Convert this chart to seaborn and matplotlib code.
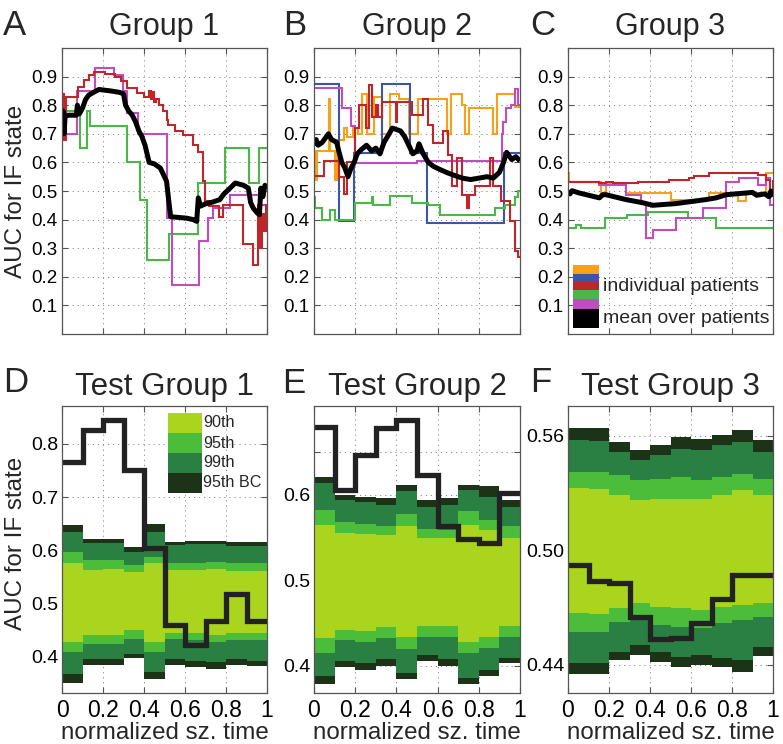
import numpy as np
import matplotlib
matplotlib.use("Agg")
import matplotlib.pyplot as plt
import seaborn as sns
from matplotlib.patches import Rectangle

sns.set_theme(style="white")
plt.rcParams["font.family"] = ["Liberation Sans", "DejaVu Sans"]

# colours
ORANGE = "#F7A11A"
BLUE = "#3D55A6"
RED = "#BF262C"
GREEN = "#4BB748"
MAGENTA = "#BF4DBE"
BAND_90 = "#AAD41E"
BAND_95 = "#4CBD3A"
BAND_99 = "#2A8042"
BAND_BC = "#1C3318"

# ---------------- top row: AUC traces per patient (step functions) ----------------
# Group 1
A_green_t = [0.0, 0.089, 0.121, 0.138, 0.318, 0.379, 0.413, 0.52, 0.665, 0.795, 0.912, 0.961, 1.0]
A_green_y = [0.778, 0.65, 0.778, 0.729, 0.60, 0.47, 0.26, 0.348, 0.528, 0.652, 0.528, 0.652, 0.652]
A_magenta_t = [0.0, 0.072, 0.162, 0.252, 0.298, 0.318, 0.37, 0.51, 0.539, 0.67, 0.714, 0.738, 0.82, 0.966, 1.0]
A_magenta_y = [0.70, 0.85, 0.93, 0.906, 0.848, 0.772, 0.70, 0.406, 0.173, 0.324, 0.405, 0.44, 0.487, 0.45, 0.45]
A_red_t = [0.0, 0.006, 0.012, 0.02, 0.08, 0.105, 0.13, 0.154, 0.21, 0.26, 0.29, 0.318, 0.367, 0.40,
           0.425, 0.432, 0.44, 0.45, 0.46, 0.475, 0.494, 0.51, 0.519, 0.551, 0.592, 0.641, 0.665,
           0.689, 0.698, 0.719, 0.767, 0.784, 0.885, 0.933, 0.958, 0.966, 0.975, 0.985, 0.993, 1.0]
A_red_y = [0.70, 0.84, 0.68, 0.83, 0.862, 0.888, 0.906, 0.915, 0.908, 0.90, 0.883, 0.86, 0.842, 0.83,
           0.85, 0.82, 0.845, 0.81, 0.82, 0.80, 0.78, 0.75, 0.73, 0.71, 0.697, 0.66, 0.638,
           0.534, 0.464, 0.447, 0.41, 0.45, 0.313, 0.243, 0.45, 0.30, 0.42, 0.36, 0.45, 0.40]
A_mean_t = [0.0, 0.005, 0.01, 0.015, 0.03, 0.07, 0.075, 0.085, 0.10, 0.115, 0.13, 0.154, 0.18, 0.236,
            0.28, 0.30, 0.31, 0.325, 0.343, 0.36, 0.375, 0.39, 0.405, 0.415, 0.425, 0.45, 0.48, 0.51,
            0.52, 0.53, 0.608, 0.64, 0.657, 0.665, 0.675, 0.70, 0.738, 0.77, 0.79, 0.82, 0.845, 0.885,
            0.909, 0.92, 0.933, 0.95, 0.963, 0.97, 0.98, 0.99, 1.0]
A_mean_y = [0.72, 0.78, 0.70, 0.76, 0.765, 0.765, 0.80, 0.77, 0.79, 0.82, 0.835, 0.845, 0.855, 0.85,
            0.845, 0.84, 0.80, 0.78, 0.765, 0.74, 0.71, 0.69, 0.66, 0.63, 0.60, 0.595, 0.58, 0.534,
            0.47, 0.41, 0.405, 0.40, 0.394, 0.476, 0.447, 0.455, 0.462, 0.47, 0.49, 0.51, 0.528, 0.52,
            0.51, 0.46, 0.44, 0.425, 0.417, 0.51, 0.48, 0.52, 0.51]

# Group 2
B_orange_t = [0.0, 0.008, 0.016, 0.071, 0.076, 0.104, 0.112, 0.144, 0.16, 0.19, 0.214, 0.233, 0.257,
              0.29, 0.33, 0.37, 0.411, 0.46, 0.49, 0.503, 0.645, 0.665, 0.72, 0.735, 0.75, 0.87,
              0.886, 0.975, 1.0]
B_orange_y = [0.64, 0.54, 0.64, 0.82, 0.64, 0.54, 0.68, 0.72, 0.69, 0.72, 0.70, 0.84, 0.70,
              0.83, 0.70, 0.84, 0.82, 0.70, 0.70, 0.82, 0.70, 0.84, 0.80, 0.70, 0.79, 0.70,
              0.84, 0.795, 0.795]
B_blue_t = [0.0, 0.123, 0.193, 0.33, 0.468, 0.547, 0.924, 1.0]
B_blue_y = [0.874, 0.394, 0.633, 0.874, 0.633, 0.388, 0.633, 0.633]
B_red_t = [0.0, 0.047, 0.12, 0.145, 0.16, 0.20, 0.217, 0.25, 0.265, 0.28, 0.30, 0.31, 0.33, 0.40,
           0.405, 0.476, 0.53, 0.555, 0.58, 0.628, 0.652, 0.668, 0.692, 0.717, 0.745, 0.75, 0.78,
           0.854, 0.87, 0.91, 0.95, 0.975, 0.99, 1.0]
B_red_y = [0.551, 0.604, 0.55, 0.49, 0.60, 0.72, 0.80, 0.72, 0.87, 0.76, 0.80, 0.76, 0.81, 0.74,
           0.81, 0.766, 0.82, 0.73, 0.667, 0.71, 0.627, 0.516, 0.615, 0.487, 0.44, 0.487, 0.516,
           0.615, 0.516, 0.464, 0.394, 0.29, 0.27, 0.27]
B_green_t = [0.0, 0.006, 0.039, 0.079, 0.104, 0.20, 0.28, 0.285, 0.371, 0.476, 0.555, 0.611, 0.878,
             0.927, 0.975, 0.99, 1.0]
B_green_y = [0.48, 0.441, 0.40, 0.435, 0.40, 0.458, 0.48, 0.452, 0.481, 0.458, 0.452, 0.417, 0.44,
             0.452, 0.48, 0.50, 0.50]
B_magenta_t = [0.0, 0.136, 0.181, 0.20, 0.50, 0.911, 0.918, 0.93, 0.955, 0.975, 0.99, 1.0]
B_magenta_y = [0.859, 0.79, 0.726, 0.598, 0.604, 0.70, 0.74, 0.79, 0.80, 0.855, 0.80, 0.80]
B_mean_t = [0.0, 0.01, 0.02, 0.04, 0.07, 0.085, 0.11, 0.12, 0.135, 0.15, 0.165, 0.18, 0.195, 0.21,
            0.23, 0.255, 0.28, 0.30, 0.32, 0.34, 0.365, 0.38, 0.42, 0.44, 0.46, 0.48, 0.50, 0.51,
            0.53, 0.555, 0.58, 0.615, 0.65, 0.68, 0.72, 0.76, 0.80, 0.84, 0.87, 0.90, 0.92, 0.935,
            0.96, 0.98, 1.0]
B_mean_y = [0.66, 0.68, 0.66, 0.67, 0.70, 0.68, 0.67, 0.64, 0.60, 0.58, 0.55, 0.58, 0.60, 0.63,
            0.645, 0.66, 0.64, 0.65, 0.63, 0.67, 0.70, 0.72, 0.71, 0.69, 0.66, 0.63, 0.64, 0.665,
            0.63, 0.60, 0.586, 0.574, 0.563, 0.555, 0.545, 0.54, 0.545, 0.55, 0.545, 0.565, 0.60, 0.635,
            0.61, 0.62, 0.605]

# Group 3
C_orange_t = [0.0, 0.007, 0.161, 0.185, 0.283, 0.502, 0.689, 0.828, 0.868, 0.966, 1.0]
C_orange_y = [0.562, 0.53, 0.493, 0.528, 0.493, 0.468, 0.493, 0.464, 0.493, 0.562, 0.562]
C_red_t = [0.0, 0.055, 0.153, 0.185, 0.218, 0.34, 0.494, 0.592, 0.616, 0.689, 0.771, 0.925, 0.966, 0.985, 1.0]
C_red_y = [0.533, 0.531, 0.528, 0.533, 0.528, 0.533, 0.539, 0.545, 0.553, 0.562, 0.564, 0.556, 0.539, 0.50, 0.54]
C_green_t = [0.0, 0.04, 0.065, 0.18, 0.29, 0.39, 0.585, 0.72, 1.0]
C_green_y = [0.37, 0.382, 0.37, 0.405, 0.417, 0.428, 0.405, 0.37, 0.37]
C_magenta_t = [0.0, 0.153, 0.283, 0.356, 0.38, 0.415, 0.527, 0.657, 0.771, 0.836, 0.925, 0.966, 0.985, 1.0]
C_magenta_y = [0.533, 0.522, 0.487, 0.453, 0.335, 0.364, 0.407, 0.441, 0.533, 0.545, 0.522, 0.545, 0.45, 0.45]
C_mean_t = [0.0, 0.01, 0.02, 0.055, 0.153, 0.17, 0.185, 0.283, 0.364, 0.413, 0.527, 0.673, 0.722,
            0.771, 0.90, 0.92, 0.96, 0.98, 0.99, 1.0]
C_mean_y = [0.50, 0.49, 0.501, 0.493, 0.476, 0.487, 0.487, 0.47, 0.459, 0.45, 0.456, 0.47, 0.476,
            0.487, 0.495, 0.485, 0.49, 0.48, 0.50, 0.48]

# ---------------- bottom row: test groups, 10 time bins ----------------
BINS = [0.0, 0.1, 0.2, 0.3, 0.4, 0.5, 0.6, 0.7, 0.8, 0.9, 1.0]

D_mean = [0.765, 0.825, 0.845, 0.751, 0.605, 0.46, 0.423, 0.468, 0.518, 0.468]
D_bc_hi = [0.648, 0.621, 0.622, 0.606, 0.649, 0.616, 0.618, 0.618, 0.616, 0.616]
D_99_hi = [0.634, 0.613, 0.614, 0.597, 0.635, 0.610, 0.611, 0.611, 0.609, 0.609]
D_95_hi = [0.596, 0.581, 0.582, 0.572, 0.588, 0.576, 0.577, 0.578, 0.576, 0.576]
D_90_hi = [0.576, 0.563, 0.564, 0.560, 0.576, 0.563, 0.563, 0.564, 0.562, 0.562]
D_90_lo = [0.428, 0.441, 0.441, 0.450, 0.428, 0.444, 0.444, 0.440, 0.444, 0.444]
D_95_lo = [0.409, 0.424, 0.424, 0.434, 0.409, 0.434, 0.432, 0.428, 0.432, 0.432]
D_99_lo = [0.367, 0.395, 0.395, 0.406, 0.372, 0.395, 0.392, 0.390, 0.395, 0.392]
D_bc_lo = [0.351, 0.384, 0.384, 0.397, 0.359, 0.384, 0.380, 0.378, 0.384, 0.382]

E_mean = [0.679, 0.606, 0.647, 0.678, 0.688, 0.623, 0.563, 0.548, 0.544, 0.602]
E_bc_hi = [0.621, 0.600, 0.598, 0.596, 0.612, 0.594, 0.596, 0.612, 0.610, 0.594]
E_99_hi = [0.614, 0.594, 0.592, 0.588, 0.604, 0.586, 0.588, 0.606, 0.598, 0.586]
E_95_hi = [0.582, 0.568, 0.566, 0.563, 0.577, 0.560, 0.559, 0.581, 0.571, 0.563]
E_90_hi = [0.565, 0.555, 0.554, 0.553, 0.563, 0.549, 0.549, 0.565, 0.559, 0.549]
E_90_lo = [0.432, 0.442, 0.440, 0.445, 0.434, 0.447, 0.447, 0.428, 0.434, 0.447]
E_95_lo = [0.415, 0.430, 0.428, 0.432, 0.419, 0.434, 0.434, 0.415, 0.421, 0.434]
E_99_lo = [0.388, 0.405, 0.403, 0.408, 0.391, 0.412, 0.408, 0.386, 0.395, 0.409]
E_bc_lo = [0.378, 0.398, 0.395, 0.400, 0.384, 0.405, 0.400, 0.378, 0.388, 0.403]

F_mean = [0.4923, 0.4841, 0.4827, 0.4653, 0.4534, 0.4540, 0.4618, 0.4744, 0.4871, 0.4871]
F_bc_hi = [0.5642, 0.5640, 0.5569, 0.5525, 0.5551, 0.5595, 0.5586, 0.5603, 0.5630, 0.5577]
F_99_hi = [0.5577, 0.5575, 0.5516, 0.5473, 0.5499, 0.5534, 0.5525, 0.5551, 0.5569, 0.5516]
F_95_hi = [0.5412, 0.5410, 0.5394, 0.5368, 0.5377, 0.5385, 0.5368, 0.5385, 0.5403, 0.5377]
F_90_hi = [0.5325, 0.5322, 0.5290, 0.5263, 0.5272, 0.5272, 0.5272, 0.5290, 0.5316, 0.5290]
F_90_lo = [0.4670, 0.4668, 0.4696, 0.4723, 0.4705, 0.4696, 0.4688, 0.4705, 0.4714, 0.4723]
F_95_lo = [0.4574, 0.4572, 0.4627, 0.4653, 0.4609, 0.4600, 0.4592, 0.4618, 0.4635, 0.4653]
F_99_lo = [0.4410, 0.4412, 0.4470, 0.4505, 0.4470, 0.4444, 0.4452, 0.4435, 0.4426, 0.4496]
F_bc_lo = [0.4353, 0.4355, 0.4426, 0.4452, 0.4417, 0.4391, 0.4400, 0.4391, 0.4365, 0.4447]

TICKS_X = [0, 0.2, 0.4, 0.6, 0.8, 1.0]
TICKS_X_LABELS = ["0", "0.2", "0.4", "0.6", "0.8", "1"]
TICKS_TOP_Y = [0.1, 0.2, 0.3, 0.4, 0.5, 0.6, 0.7, 0.8, 0.9]
TICKS_D = [0.4, 0.5, 0.6, 0.7, 0.8]
TICKS_E = [0.4, 0.45, 0.5, 0.55, 0.6, 0.65]
TICKS_E_LABELS = ["0.4", "", "0.5", "", "0.6", ""]
TICKS_F = [0.44, 0.47, 0.50, 0.53, 0.56]
TICKS_F_LABELS = ["0.44", "", "0.50", "", "0.56"]

W, H = 783, 744
fig = plt.figure(figsize=(W / 100, H / 100), dpi=100)


def px_axes(x0, x1, y0, y1):
    return fig.add_axes([x0 / W, 1 - y1 / H, (x1 - x0) / W, (y1 - y0) / H])


def style(ax):
    ax.grid(True, linestyle=(0, (1.2, 4)), color="#8a8a8a", linewidth=0.7)
    ax.set_axisbelow(True)
    for s in ax.spines.values():
        s.set_visible(True)
        s.set_color("#555555")
        s.set_linewidth(0.9)
    ax.tick_params(direction="in", length=4, width=0.8, bottom=True, left=True,
                   top=True, right=True, color="#555555", labelcolor="black")


def trace(ax, t, y, color, lw=1.5, steps=True):
    kw = dict(drawstyle="steps-post", solid_joinstyle="miter") if steps else dict(solid_joinstyle="round")
    sns.lineplot(x=np.array(t), y=np.array(y), ax=ax, color=color, linewidth=lw,
                 estimator=None, sort=False, marker="", solid_capstyle="butt", **kw)


def bands(ax, los, his, colors):
    for lo, hi, c in zip(los, his, colors):
        ax.fill_between(BINS, np.append(lo, lo[-1]), np.append(hi, hi[-1]),
                        step="post", color=c, linewidth=0)


top_axes = [px_axes(62, 267, 48, 334), px_axes(314, 520, 48, 334), px_axes(568, 773, 48, 334)]
bot_axes = [px_axes(62, 267, 406, 693), px_axes(314, 520, 406, 693), px_axes(568, 773, 406, 693)]

top_sets = [
    [(A_green_t, A_green_y, GREEN), (A_magenta_t, A_magenta_y, MAGENTA), (A_red_t, A_red_y, RED)],
    [(B_orange_t, B_orange_y, ORANGE), (B_blue_t, B_blue_y, BLUE), (B_green_t, B_green_y, GREEN),
     (B_magenta_t, B_magenta_y, MAGENTA), (B_red_t, B_red_y, RED)],
    [(C_orange_t, C_orange_y, ORANGE), (C_green_t, C_green_y, GREEN),
     (C_magenta_t, C_magenta_y, MAGENTA), (C_red_t, C_red_y, RED)],
]
top_means = [(A_mean_t, A_mean_y), (B_mean_t, B_mean_y), (C_mean_t, C_mean_y)]

for i, ax in enumerate(top_axes):
    style(ax)
    for t, y, c in top_sets[i]:
        trace(ax, t, y, c, 1.5)
    trace(ax, top_means[i][0], top_means[i][1], "black", 3.6, steps=False)
    ax.set_xlim(0, 1)
    ax.set_ylim(0, 1)
    ax.set_xticks(TICKS_X)
    ax.set_xticklabels([])
    ax.set_yticks(TICKS_TOP_Y)
    ax.set_yticklabels([f"{v:.1f}" for v in TICKS_TOP_Y])
    ax.tick_params(axis="y", labelsize=13.5, pad=3)
    ax.set_xlabel("")
    ax.set_ylabel("")
    ax.set_title(f"Group {i + 1}", fontsize=22, pad=9.4)

top_axes[0].set_ylabel("AUC for IF state", fontsize=17.4)
top_axes[0].yaxis.set_label_coords(-0.17, 0.5)

# legend in Group 3
axc = top_axes[2]
leg_edges = [0.240, 0.210, 0.181, 0.153, 0.121, 0.088, 0.022]
leg_cols = [ORANGE, BLUE, RED, GREEN, MAGENTA, "black"]
for k, c in enumerate(leg_cols):
    axc.add_patch(Rectangle((0.026, leg_edges[k + 1]), 0.127, leg_edges[k] - leg_edges[k + 1],
                            transform=axc.transAxes, color=c, linewidth=0, zorder=5))
axc.text(0.172, 0.167, "individual patients", transform=axc.transAxes, fontsize=14,
         va="center", ha="left", zorder=6)
axc.text(0.172, 0.054, "mean over patients", transform=axc.transAxes, fontsize=14,
         va="center", ha="left", zorder=6)

bot_data = [
    (D_mean, [D_bc_lo, D_99_lo, D_95_lo, D_90_lo], [D_bc_hi, D_99_hi, D_95_hi, D_90_hi]),
    (E_mean, [E_bc_lo, E_99_lo, E_95_lo, E_90_lo], [E_bc_hi, E_99_hi, E_95_hi, E_90_hi]),
    (F_mean, [F_bc_lo, F_99_lo, F_95_lo, F_90_lo], [F_bc_hi, F_99_hi, F_95_hi, F_90_hi]),
]
bot_ylims = [(0.332, 0.871), (0.368, 0.704), (0.4253, 0.5757)]
bot_yticks = [(TICKS_D, [f"{v:.1f}" for v in TICKS_D]), (TICKS_E, TICKS_E_LABELS), (TICKS_F, TICKS_F_LABELS)]
band_cols = [BAND_BC, BAND_99, BAND_95, BAND_90]

for i, ax in enumerate(bot_axes):
    style(ax)
    mean, los, his = bot_data[i]
    bands(ax, los, his, band_cols)
    sns.lineplot(x=np.array(BINS), y=np.append(mean, mean[-1]), ax=ax, color="#222222",
                 linewidth=3.8, estimator=None, sort=False, drawstyle="steps-post", marker="",
                 solid_joinstyle="miter", solid_capstyle="butt")
    ax.set_xlim(0, 1)
    ax.set_ylim(*bot_ylims[i])
    ax.set_xticks(TICKS_X)
    ax.set_xticklabels(TICKS_X_LABELS)
    ax.set_yticks(bot_yticks[i][0])
    ax.set_yticklabels(bot_yticks[i][1])
    ax.tick_params(axis="x", labelsize=16.5, pad=4.5)
    ax.tick_params(axis="y", labelsize=14, pad=2.5)
    ax.set_ylabel("")
    ax.set_xlabel("normalized sz. time", fontsize=17.4, labelpad=0)
    ax.set_title(f"Test Group {i + 1}", fontsize=22.5, pad=8)

bot_axes[0].set_ylabel("AUC for IF state", fontsize=17.4)
bot_axes[0].yaxis.set_label_coords(-0.17, 0.52)

# percentile legend in Test Group 1
axd = bot_axes[0]
d_edges = [0.976, 0.906, 0.836, 0.767, 0.697]
d_cols = [BAND_90, BAND_95, BAND_99, BAND_BC]
d_labels = ["90th", "95th", "99th", "95th BC"]
for k in range(4):
    axd.add_patch(Rectangle((0.519, d_edges[k + 1]), 0.162, d_edges[k] - d_edges[k + 1],
                            transform=axd.transAxes, color=d_cols[k], linewidth=0, zorder=5))
    axd.text(0.689, (d_edges[k] + d_edges[k + 1]) / 2, d_labels[k], transform=axd.transAxes,
             fontsize=11.6, va="center", ha="left", zorder=6)

# panel letters
for letter, x, yb in [("A", 3, 35), ("B", 283, 35), ("C", 530, 35),
                      ("D", 3, 392), ("E", 282, 393), ("F", 530, 392)]:
    fig.text(x / W, 1 - yb / H, letter, fontsize=25, va="baseline", ha="left")

fig.savefig("out.png", dpi=100)
